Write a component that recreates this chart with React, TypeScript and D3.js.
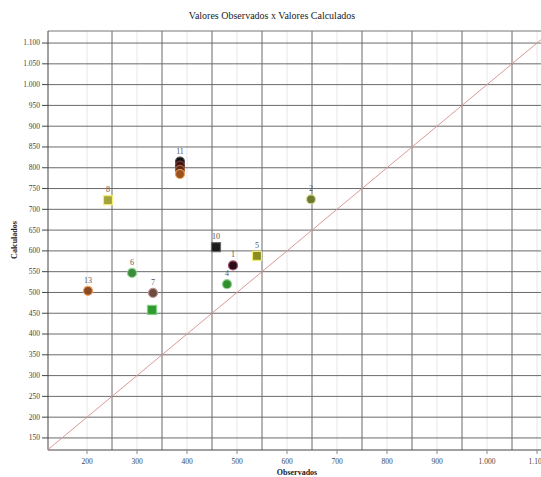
import React from 'react';
import * as d3 from 'd3';

// observed (x) vs calculated (y), one entry per well
const pointLabels = ['8', '11', '', '', '', '6', '13', '7', '', '10', '1', '4', '5', '2'];
const observed = [242, 386, 386, 386, 386, 290, 202, 332, 330, 458, 492, 480, 540, 648];
const calculated = [722, 815, 805, 795, 785, 547, 504, 499, 458, 609, 565, 520, 588, 724];
const shapes = ['square', 'circle', 'circle', 'circle', 'circle', 'circle', 'circle', 'circle', 'square', 'square', 'circle', 'circle', 'square', 'circle'];
const fills = ['#a3a23c', '#111111', '#3d1414', '#5e2c18', '#9a5224', '#3c8a3c', '#8a4a22', '#6a4c40', '#2f9a2f', '#1c1c1c', '#2a0c16', '#2f8f2f', '#8c8c24', '#6b7a30'];
const strokes = ['#f4f070', '#555555', '#7a3a3a', '#a06040', '#f0a050', '#8fd08f', '#f0a060', '#c09090', '#7fd07f', '#666666', '#a05070', '#8fd08f', '#eeee70', '#d8d890'];

const xTicks = [200, 300, 400, 500, 600, 700, 800, 900, 1000, 1100];
const xGrid = [250, 350, 450, 550, 650, 750, 850, 950, 1050];
const yTicks = [150, 200, 250, 300, 350, 400, 450, 500, 550, 600, 650, 700, 750, 800, 850, 900, 950, 1000, 1050, 1100];

const locale = d3.formatLocale({ decimal: ',', thousands: '.', grouping: [3], currency: ['R$', ''] });
const fmt = locale.format(',d');

export default function App() {
  const width = 541;
  const height = 477;
  const margin = { left: 48, top: 31, right: 0, bottom: 27 };
  const innerW = width - margin.left - margin.right;
  const innerH = height - margin.top - margin.bottom;

  const x = d3.scaleLinear().domain([122, 1108]).range([0, innerW]);
  const y = d3.scaleLinear().domain([121, 1129]).range([innerH, 0]);

  const lo = Math.max(x.domain()[0], y.domain()[0]);
  const hi = Math.min(x.domain()[1], y.domain()[1]);
  const font = '"Liberation Serif", "DejaVu Serif", serif';

  return (
    <div style={{ position: 'absolute', left: 0, top: 0 }}>
      <svg width={width} height={height} viewBox={`0 0 ${width} ${height}`} style={{ display: 'block', background: '#fff' }}>
        <text x={272} y={19} textAnchor="middle" fontFamily={font} fontSize={10} fill="#222">
          Valores Observados x Valores Calculados
        </text>
        <g transform={`translate(${margin.left},${margin.top})`}>
          {xTicks.map(t => (
            <line key={'fx' + t} x1={x(t)} x2={x(t)} y1={0} y2={innerH} stroke="#e6e6e6" />
          ))}
          {xGrid.map(t => (
            <line key={'gx' + t} x1={x(t)} x2={x(t)} y1={0} y2={innerH} stroke="#6a6a6a" />
          ))}
          {yTicks.map(t => (
            <line key={'gy' + t} x1={0} x2={innerW} y1={y(t)} y2={y(t)} stroke="#6a6a6a" />
          ))}
          <line x1={0} x2={innerW} y1={0} y2={0} stroke="#777" />
          <line x1={0} x2={0} y1={0} y2={innerH} stroke="#444" />
          <line x1={0} x2={innerW} y1={innerH} y2={innerH} stroke="#444" />

          <line x1={x(lo)} y1={y(lo)} x2={x(hi)} y2={y(hi)} stroke="#d99a9a" strokeWidth={1} />

          {yTicks.map(t => (
            <g key={'ty' + t} transform={`translate(0,${y(t)})`}>
              <line x1={-6} x2={0} stroke="#444" />
              <text x={-8} dy="0.32em" textAnchor="end" fontFamily={font} fontSize={7.5} fill="#444">
                {fmt(t)}
              </text>
            </g>
          ))}
          {xTicks.map(t => (
            <g key={'tx' + t} transform={`translate(${x(t)},${innerH})`}>
              <line y1={0} y2={4} stroke="#888" />
              <text y={14} textAnchor="middle" fontFamily={font} fontSize={7.5} fill="#444">
                {fmt(t)}
              </text>
            </g>
          ))}

          {observed.map((o, i) => (
            <text key={'lb' + i} x={x(o)} y={y(calculated[i]) - 8} textAnchor="middle" fontFamily={font} fontSize={8} fill="#555">
              {pointLabels[i]}
            </text>
          ))}
          {observed.map((o, i) =>
            shapes[i] === 'square' ? (
              <rect key={'pt' + i} x={x(o) - 4.5} y={y(calculated[i]) - 4.5} width={9} height={9} fill={fills[i]} stroke={strokes[i]} strokeWidth={1.2} />
            ) : (
              <circle key={'pt' + i} cx={x(o)} cy={y(calculated[i])} r={4.5} fill={fills[i]} stroke={strokes[i]} strokeWidth={1.2} />
            )
          )}
        </g>
        <text x={297} y={475} textAnchor="middle" fontFamily={font} fontSize={8} fontWeight="bold" fill="#222">
          Observados
        </text>
        <text transform="translate(17,240) rotate(-90)" textAnchor="middle" fontFamily={font} fontSize={8} fontWeight="bold" fill="#222">
          Calculados
        </text>
      </svg>
    </div>
  );
}
